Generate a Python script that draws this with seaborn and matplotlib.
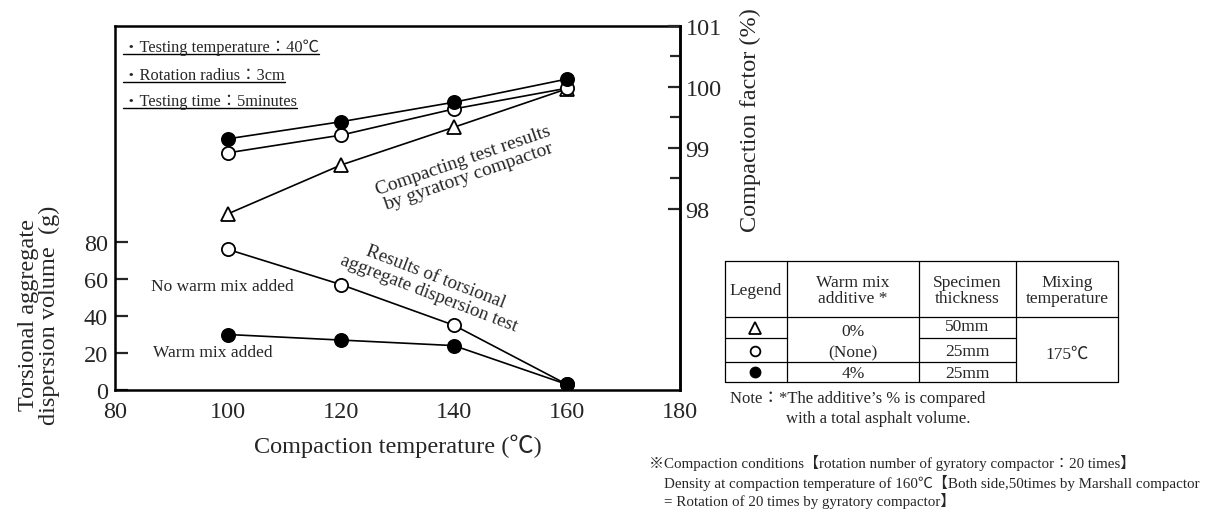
import numpy as np
import pandas as pd
import matplotlib
matplotlib.use("Agg")
import matplotlib.pyplot as plt
import seaborn as sns

# ---------------- data ----------------
temps = [100, 120, 140, 160]
compact_filled = [99.15, 99.43, 99.75, 100.13]   # 4% additive, 25mm
compact_open = [98.92, 99.21, 99.64, 99.98]      # 0%, 25mm
compact_tri = [97.92, 98.72, 99.34, 99.97]       # 0%, 50mm
torsion_open = [76, 57, 35, 3]                   # No warm mix added
torsion_filled = [30, 27, 24, 3]                 # Warm mix added

x_ticks = [80, 100, 120, 140, 160, 180]
x_minor = [90, 110, 130, 150, 170]
left_ticks = [0, 20, 40, 60, 80]
right_ticks = [98, 99, 100, 101]
right_minor = [98.5, 99.5, 100.5]

info_lines = ["・Testing temperature：40℃", "・Rotation radius：3cm", "・Testing time：5minutes"]
table_header = ["Legend", "Warm mix\nadditive *", "Specimen\nthickness", "Mixing\ntemperature"]
note_lines = ["※Compaction conditions【rotation number of gyratory compactor：20 times】",
              "Density at compaction temperature of 160℃【Both side,50times by Marshall compactor",
              "= Rotation of 20 times by gyratory compactor】"]

# ---------------- style ----------------
sns.set_style("white")
FAM = ["Liberation Serif", "Noto Sans CJK JP"]
plt.rcParams["font.family"] = FAM
plt.rcParams["axes.edgecolor"] = "black"

W, H = 1218, 510
fig = plt.figure(figsize=(W / 100, H / 100), dpi=100)
L, R, T, B = 115, 680, 27, 391
ax = fig.add_axes([L / W, 1 - B / H, (R - L) / W, (B - T) / H])
ax2 = ax.twinx()

lw = 1.2
common = dict(color="black", linewidth=lw, markeredgecolor="black", markeredgewidth=1.3)

# torsional dispersion (left axis)
sns.lineplot(x=temps, y=torsion_open, ax=ax, marker="o", markersize=9.5,
             markerfacecolor="white", zorder=3, **common)
sns.lineplot(x=temps, y=torsion_filled, ax=ax, marker="o", markersize=9.5,
             markerfacecolor="black", zorder=4, **common)

# compaction factor (right axis)
sns.lineplot(x=temps, y=compact_tri, ax=ax2, marker="^", markersize=10.5,
             markerfacecolor="white", zorder=3, **common)
sns.lineplot(x=temps, y=compact_open, ax=ax2, marker="o", markersize=9.5,
             markerfacecolor="white", zorder=4, **common)
sns.lineplot(x=temps, y=compact_filled, ax=ax2, marker="o", markersize=9.5,
             markerfacecolor="black", zorder=5, **common)

TFS = 17.5
ax.set_xlim(80, 180)
ax.set_ylim(0, 196.8)
ax2.set_ylim(95.03, 101)

ax.set_xticks(x_ticks)
ax.set_xticks(x_minor, minor=True)
ax.tick_params(axis="x", which="major", length=0, pad=8, labelsize=TFS)
ax.tick_params(axis="x", which="minor", direction="in", length=5, width=1.5)
ax.set_yticks(left_ticks)
ax.tick_params(axis="y", which="major", direction="in", length=9, width=1.6, pad=5, labelsize=TFS)
ax.tick_params(axis="y", which="minor", left=False)

ax2.set_yticks(right_ticks)
ax2.set_yticks(right_minor, minor=True)
ax2.tick_params(axis="y", which="major", direction="in", length=9, width=1.6, pad=4, labelsize=TFS)
ax2.tick_params(axis="y", which="minor", direction="in", length=7, width=1.6)

for a in (ax, ax2):
    for s in a.spines.values():
        s.set_linewidth(1.8)
        s.set_color("black")
for s in ("top", "left", "bottom"):
    ax2.spines[s].set_visible(False)

ax.set_xlabel("Compaction temperature (℃)", fontsize=TFS)
ax.xaxis.set_label_coords((398 - L) / (R - L), (B - 446) / (B - T))
ax.xaxis.label.set_va("center")
ax.set_ylabel("Torsional aggregate\ndispersion volume  (g)", fontsize=TFS, linespacing=1.05,
              multialignment="center")
ax.yaxis.set_label_coords((39 - L) / (R - L), (B - 315) / (B - T))
ax.yaxis.label.set_va("center")
ax2.set_ylabel("Compaction factor (%)", fontsize=TFS, rotation=90)
ax2.yaxis.set_label_coords((750 - L) / (R - L), (B - 120) / (B - T))
ax2.yaxis.label.set_va("center")

# ---------------- overlay in pixel coordinates ----------------
ov = fig.add_axes([0, 0, 1, 1], zorder=10)
ov.set_xlim(0, W)
ov.set_ylim(H, 0)
ov.axis("off")
ov.patch.set_visible(False)

AFS = 12.5
info_texts = []
for txt, yb in zip(info_lines, [52, 80, 106]):
    info_texts.append(ov.text(123, yb, txt, fontsize=11.8, va="baseline", ha="left"))

ov.text(466, 169, "Compacting test results\nby gyratory compactor", fontsize=14,
        rotation=19, rotation_mode="anchor", ha="center", va="center",
        multialignment="center", linespacing=1.05)
ov.text(432, 286, "Results of torsional\naggregate dispersion test", fontsize=13.7,
        rotation=-21, rotation_mode="anchor", ha="center", va="center",
        multialignment="center", linespacing=1.05)
ov.text(151, 287, "No warm mix added", fontsize=AFS, ha="left", va="center")
ov.text(153, 353, "Warm mix added", fontsize=AFS, ha="left", va="center")

# table
tl = dict(color="black", linewidth=0.9)
xs = [725, 787, 919, 1016, 1118]
ty, hy, by = 262, 318, 383
ov.plot([xs[0], xs[-1], xs[-1], xs[0], xs[0]], [ty, ty, by, by, ty], **tl)
for xv in xs[1:-1]:
    ov.plot([xv, xv], [ty, by], **tl)
ov.plot([xs[0], xs[-1]], [hy, hy], **tl)
ov.plot([xs[0], xs[1]], [339, 339], **tl)
ov.plot([xs[2], xs[3]], [339, 339], **tl)
ov.plot([xs[0], xs[3]], [363, 363], **tl)

CFS = 12.5
centers = [(xs[i] + xs[i + 1]) / 2 for i in range(4)]
for cx, lab in zip(centers, table_header):
    ov.text(cx, 291, lab, fontsize=CFS, ha="center", va="center", multialignment="center",
            linespacing=1.0)
ov.plot([755], [329], marker="^", markersize=8, markerfacecolor="white",
        markeredgecolor="black", markeredgewidth=1.3, linestyle="none")
ov.plot([755], [352], marker="o", markersize=7, markerfacecolor="white",
        markeredgecolor="black", markeredgewidth=1.3, linestyle="none")
ov.plot([755], [373], marker="o", markersize=7.5, markerfacecolor="black",
        markeredgecolor="black", linestyle="none")
ov.text(centers[1], 332, "0%", fontsize=CFS, ha="center", va="center")
ov.text(centers[1], 353, "(None)", fontsize=CFS, ha="center", va="center")
ov.text(centers[1], 374, "4%", fontsize=CFS, ha="center", va="center")
ov.text(centers[2], 327, "50mm", fontsize=CFS, ha="center", va="center")
ov.text(centers[2], 352, "25mm", fontsize=CFS, ha="center", va="center")
ov.text(centers[2], 374, "25mm", fontsize=CFS, ha="center", va="center")
ov.text(centers[3], 355, "175℃", fontsize=CFS, ha="center", va="center")

ov.text(730, 399, "Note：*The additive’s % is compared", fontsize=12, ha="left", va="center")
ov.text(786, 419, "with a total asphalt volume.", fontsize=12, ha="left", va="center")

NFS = 10.8
ov.text(649, 463, note_lines[0], fontsize=NFS, ha="left", va="center")
ov.text(664, 483, note_lines[1], fontsize=NFS, ha="left", va="center")
ov.text(664, 501, note_lines[2], fontsize=NFS, ha="left", va="center")

# underlines for the info texts
fig.canvas.draw()
rend = fig.canvas.get_renderer()
for t, yb in zip(info_texts, [52, 80, 106]):
    bb = t.get_window_extent(rend)
    ov.plot([bb.x0, bb.x1], [yb + 2.5, yb + 2.5], color="black", linewidth=1.0)

fig.savefig("out.png", dpi=100)
